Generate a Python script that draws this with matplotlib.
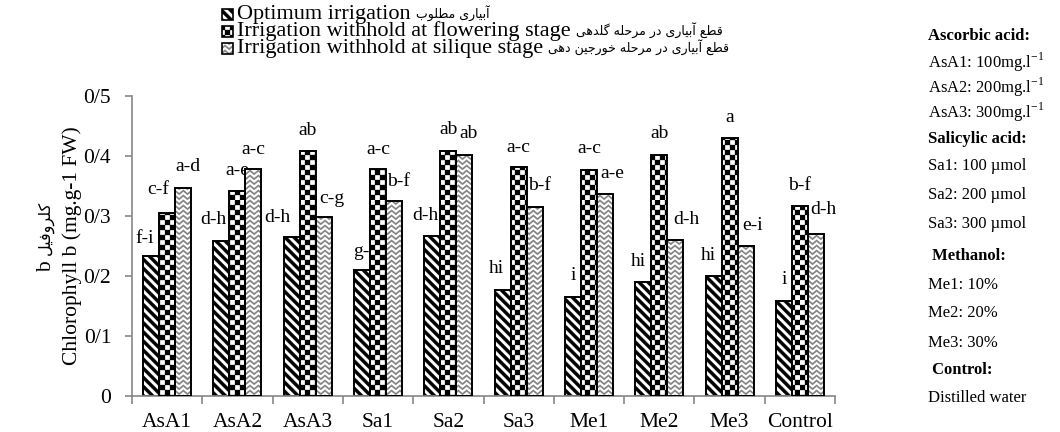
import warnings
warnings.filterwarnings("ignore")
import numpy as np
import matplotlib
matplotlib.use("Agg")
import matplotlib.pyplot as plt
import matplotlib.hatch as mhatch
from matplotlib.path import Path
from matplotlib.patches import Rectangle

# ---------------- data ----------------
categories = ["AsA1", "AsA2", "AsA3", "Sa1", "Sa2", "Sa3", "Me1", "Me2", "Me3", "Control"]
optimum = [0.233, 0.258, 0.265, 0.210, 0.267, 0.177, 0.165, 0.190, 0.200, 0.159]
flowering = [0.305, 0.342, 0.408, 0.378, 0.409, 0.382, 0.377, 0.402, 0.430, 0.316]
silique = [0.347, 0.378, 0.298, 0.325, 0.402, 0.315, 0.337, 0.260, 0.250, 0.270]
letters_optimum = ["f-i", "d-h", "d-h", "g-i", "d-h", "hi", "i", "hi", "hi", "i"]
letters_flowering = ["c-f", "a-e", "ab", "a-c", "ab", "a-c", "a-c", "ab", "a", "b-f"]
letters_silique = ["a-d", "a-c", "c-g", "b-f", "ab", "b-f", "a-e", "d-h", "e-i", "d-h"]
series_en = ["Optimum irrigation",
             "Irrigation withhold at flowering stage",
             "Irrigation withhold at silique stage"]
series_fa = ["آبیاری مطلوب",
             "قطع آبیاری در مرحله گلدهی",
             "قطع آبیاری در مرحله خورجین دهی"]
ytick_values = [0, 0.1, 0.2, 0.3, 0.4, 0.5]
ytick_labels = ["0", "0/1", "0/2", "0/3", "0/4", "0/5"]
ylabel_fa = "کلروفیل b"
ylabel_en = "Chlorophyll b (mg.g-1 FW)"
side_notes = ["Ascorbic acid:", "AsA1: 100mg.l$^{-1}$", "AsA2: 200mg.l$^{-1}$",
              "AsA3: 300mg.l$^{-1}$", "Salicylic acid:", "Sa1: 100 µmol",
              "Sa2: 200 µmol", "Sa3: 300 µmol", " Methanol:", "Me1: 10%",
              "Me2: 20%", "Me3: 30%", " Control:", "Distilled water"]
side_bold = [True, False, False, False, True, False, False, False, True,
             False, False, False, True, False]

# ---------------- label placement (pixel offsets from bar top) ----------------
dx_opt = [-6, -8, -14, 2, -7, -6, 0, -5, -5, 0]
dy_opt = [-18, -22, -20, -19, -20, -21, -21, -21, -21, -21]
dx_flw = [-9, 0, 0, 0, 0, 0, 0, 0, 0, 0]
dy_flw = [-24, -20, -21, -20, -21, -19, -21, -21, -20, -21]
dx_sil = [5, 0, 8, 4, 4, 5, 7, 11, 7, 7]
dy_sil = [-21, -20, -19, -20, -21, -21, -20, -21, -20, -24]

# ---------------- Persian shaping (presentation forms, visual order) ----------------
FORMS = {  # isolated, final, initial, medial
    'آ': (0xFE81, 0xFE82, None, None), 'ا': (0xFE8D, 0xFE8E, None, None),
    'ب': (0xFE8F, 0xFE90, 0xFE91, 0xFE92), 'ج': (0xFE9D, 0xFE9E, 0xFE9F, 0xFEA0),
    'ح': (0xFEA1, 0xFEA2, 0xFEA3, 0xFEA4), 'خ': (0xFEA5, 0xFEA6, 0xFEA7, 0xFEA8),
    'د': (0xFEA9, 0xFEAA, None, None), 'ر': (0xFEAD, 0xFEAE, None, None),
    'ط': (0xFEC1, 0xFEC2, 0xFEC3, 0xFEC4), 'ع': (0xFEC9, 0xFECA, 0xFECB, 0xFECC),
    'ف': (0xFED1, 0xFED2, 0xFED3, 0xFED4), 'ق': (0xFED5, 0xFED6, 0xFED7, 0xFED8),
    'ل': (0xFEDD, 0xFEDE, 0xFEDF, 0xFEE0), 'م': (0xFEE1, 0xFEE2, 0xFEE3, 0xFEE4),
    'ن': (0xFEE5, 0xFEE6, 0xFEE7, 0xFEE8), 'ه': (0xFEE9, 0xFEEA, 0xFEEB, 0xFEEC),
    'و': (0xFEED, 0xFEEE, None, None), '\u06cc': (0xFBFC, 0xFBFD, 0xFBFE, 0xFBFF),
    '\u06a9': (0xFB8E, 0xFB8F, 0xFB90, 0xFB91), 'گ': (0xFB92, 0xFB93, 0xFB94, 0xFB95),
}


def shape(word):
    word = word.replace('\u064a', '\u06cc').replace('\u0643', '\u06a9')
    out = []
    for i, ch in enumerate(word):
        f = FORMS.get(ch)
        if f is None:
            out.append(ch)
            continue
        prev = word[i - 1] if i > 0 else None
        nxt = word[i + 1] if i + 1 < len(word) else None
        jp = prev in FORMS and FORMS[prev][2] is not None
        jn = nxt in FORMS and f[2] is not None
        if jp and jn:
            c = f[3]
        elif jp:
            c = f[1]
        elif jn:
            c = f[2]
        else:
            c = f[0]
        out.append(chr(c))
    return ''.join(out)


def is_arabic(w):
    return any('\u0600' <= c <= '\u06ff' for c in w)


def visual_rtl(text):
    words = text.split(' ')
    return ' '.join(reversed([shape(w)[::-1] if is_arabic(w) else w for w in words]))


# ---------------- custom hatches ----------------
class _PolyHatch(mhatch.HatchPatternBase):
    char = None

    def __init__(self, hatch, density):
        if self.char in hatch:
            self.polys = self.make_polys()
            self.num_vertices = sum(len(p) + 1 for p in self.polys)
        else:
            self.polys = []
            self.num_vertices = 0

    def set_vertices_and_codes(self, vertices, codes):
        i = 0
        for p in self.polys:
            n = len(p)
            vertices[i:i + n] = p
            vertices[i + n] = p[0]
            codes[i] = Path.MOVETO
            codes[i + 1:i + n] = Path.LINETO
            codes[i + n] = Path.CLOSEPOLY
            i += n + 1


class StripeHatch(_PolyHatch):
    char = 'D'

    def make_polys(self):
        k, w = 11, 0.045
        polys = []
        for j in range(0, 2 * k + 2):
            c = j / k
            polys.append(np.array([(0, c), (1, c - 1), (1, c - 1 + w), (0, c + w)]))
        return polys


class CheckerHatch(_PolyHatch):
    char = 'C'

    def make_polys(self):
        n = 20
        polys = []
        for i in range(n):
            for j in range(n):
                if (i + j) % 2 == 0:
                    polys.append(np.array([(i / n, j / n), ((i + 1) / n, j / n),
                                           ((i + 1) / n, (j + 1) / n), (i / n, (j + 1) / n)]))
        return polys


class ZigzagHatch(_PolyHatch):
    char = 'Z'

    def make_polys(self):
        m, p, a, t = 20, 12, 0.035, 0.018
        xs = np.linspace(0, 1, 2 * p + 1)
        polys = []
        for r in range(-1, m + 1):
            base = r / m
            ys = base + np.where(np.arange(2 * p + 1) % 2 == 0, a, 0.0)
            lower = np.column_stack([xs, ys])
            upper = np.column_stack([xs[::-1], ys[::-1] + t])
            polys.append(np.vstack([lower, upper]))
        return polys


mhatch._hatch_types.extend([StripeHatch, CheckerHatch, ZigzagHatch])

# ---------------- figure ----------------
plt.rcParams['font.family'] = ['Liberation Serif', 'DejaVu Sans']
plt.rcParams['mathtext.fontset'] = 'custom'
plt.rcParams['mathtext.rm'] = 'Liberation Serif'
plt.rcParams['hatch.linewidth'] = 0.2

W, H = 1060, 432
fig = plt.figure(figsize=(W / 100, H / 100), dpi=100)
ax = fig.add_axes([132 / W, 36 / H, 703 / W, 300 / H])
renderer = fig.canvas.get_renderer()

x = np.arange(len(categories))
bw = 0.228
series = [optimum, flowering, silique]
letters = [letters_optimum, letters_flowering, letters_silique]
dxs = [dx_opt, dx_flw, dx_sil]
dys = [dy_opt, dy_flw, dy_sil]
hatches = ['D', 'C', 'Z']
hatch_colors = ['black', 'black', '#7f7f7f']

for k in range(3):
    pos = x + (k - 1) * bw
    ax.bar(pos, series[k], bw, color='white', edgecolor=hatch_colors[k],
           hatch=hatches[k], linewidth=0, zorder=2 + 2 * k)
    ax.bar(pos, series[k], bw, fill=False, edgecolor='black', linewidth=1.4,
           zorder=2 + 2 * k)
    for i in range(len(categories)):
        ax.annotate(letters[k][i], (pos[i], series[k][i]),
                    xytext=(dxs[k][i] * 0.72, -dys[k][i] * 0.72),
                    textcoords='offset points', ha='center', va='center',
                    fontsize=14, zorder=3 + 2 * k)

grey = '#868686'
ax.set_xlim(-0.5, len(categories) - 0.5)
ax.set_ylim(0, 0.5)
ax.set_yticks(ytick_values)
ax.set_yticklabels(ytick_labels, fontsize=15.5)
ax.set_xticks(x)
ax.set_xticklabels(categories, fontsize=15.5)
ax.set_xticks(np.arange(-0.5, len(categories), 1), minor=True)
ax.tick_params(axis='x', which='major', length=0, pad=12.5)
ax.tick_params(axis='x', which='minor', length=6, color=grey, width=1.2)
ax.tick_params(axis='y', length=5, color=grey, width=1.2, pad=10)
for s in ['top', 'right']:
    ax.spines[s].set_visible(False)
for s in ['left', 'bottom']:
    ax.spines[s].set_color(grey)
    ax.spines[s].set_linewidth(1.2)

# y labels (two lines): Persian line = Persian word + latin "b"
fa_words = ylabel_fa.split(' ')
fa_part = ' '.join(w for w in fa_words if is_arabic(w))
lat_part = ' '.join(w for w in fa_words if not is_arabic(w))
fig.text(47 / W, 1 - 267 / H, lat_part, rotation=90,
         ha='center', va='center', fontsize=15.5)
fig.text(46 / W, 1 - 228 / H, visual_rtl(fa_part), rotation=90,
         ha='center', va='center', fontsize=11.5, family='DejaVu Sans')
fig.text(72 / W, 1 - 246 / H, ylabel_en, rotation=90,
         ha='center', va='center', fontsize=15.5)

# legend (manual)
leg_y = [14, 31, 48]
for k in range(3):
    yc = leg_y[k]
    r = Rectangle((222 / W, 1 - (yc + 5.5) / H), 11 / W, 11 / H,
                  transform=fig.transFigure, facecolor='white',
                  edgecolor=hatch_colors[k], hatch=hatches[k], linewidth=0)
    fig.add_artist(r)
    r2 = Rectangle((222 / W, 1 - (yc + 5.5) / H), 11 / W, 11 / H,
                   transform=fig.transFigure, fill=False,
                   edgecolor='black', linewidth=1.2)
    fig.add_artist(r2)
    t = fig.text(237 / W, 1 - yc / H, series_en[k],
                 ha='left', va='center', fontsize=16)
    bb = t.get_window_extent(renderer=renderer)
    fig.text((bb.x1 + 5) / W, 1 - (yc - 1) / H, visual_rtl(series_fa[k]),
             ha='left', va='center', fontsize=9, family='DejaVu Sans')

# side notes
side_y = [36, 62, 87, 112, 139, 166, 195, 224, 256, 285, 313, 343, 370, 398]
for txt, b, yy in zip(side_notes, side_bold, side_y):
    fig.text(928 / W, 1 - yy / H, txt, ha='left', va='center', fontsize=12,
             fontweight='bold' if b else 'normal')

fig.savefig('out.png', dpi=100)
